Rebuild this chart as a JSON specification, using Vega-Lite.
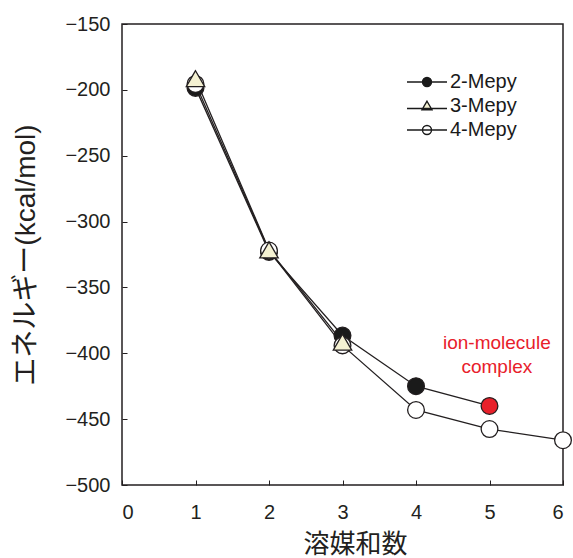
{
  "$schema": "https://vega.github.io/schema/vega-lite/v6.json",
  "width": 441,
  "height": 461,
  "autosize": {"type": "none"},
  "padding": {"left": 122, "top": 24, "right": 10, "bottom": 73},
  "background": "white",
  "config": {
    "view": {"stroke": "#231f20", "strokeWidth": 1.5},
    "font": "Liberation Sans, Noto Sans CJK JP",
    "axis": {
      "grid": false,
      "domain": false,
      "tickColor": "#231f20",
      "tickSize": -5,
      "tickWidth": 1,
      "labelFont": "Liberation Sans",
      "labelFontSize": 20,
      "labelColor": "#231f20",
      "titleFont": "Liberation Sans, Noto Sans CJK JP",
      "titleColor": "#231f20",
      "titleFontWeight": "normal"
    }
  },
  "datasets": {
    "pts": [
      {"series": "2-Mepy", "n": 1, "energy": -198.5},
      {"series": "2-Mepy", "n": 2, "energy": -323},
      {"series": "2-Mepy", "n": 3, "energy": -386.5},
      {"series": "2-Mepy", "n": 4, "energy": -425},
      {"series": "2-Mepy", "n": 5, "energy": -440},
      {"series": "4-Mepy", "n": 1, "energy": -195.5},
      {"series": "4-Mepy", "n": 2, "energy": -322},
      {"series": "4-Mepy", "n": 3, "energy": -394},
      {"series": "4-Mepy", "n": 4, "energy": -443},
      {"series": "4-Mepy", "n": 5, "energy": -457.5},
      {"series": "4-Mepy", "n": 6, "energy": -466},
      {"series": "3-Mepy", "n": 1, "energy": -191.5},
      {"series": "3-Mepy", "n": 2, "energy": -321.5},
      {"series": "3-Mepy", "n": 3, "energy": -391.5}
    ],
    "note": [
      {"n": 5.1, "energy": -392.5, "label": "ion-molecule\ncomplex"}
    ]
  },
  "layer": [
    {
      "data": {"name": "pts"},
      "mark": {"type": "line", "stroke": "#231f20", "strokeWidth": 1.3},
      "encoding": {
        "x": {
          "field": "n", "type": "quantitative",
          "scale": {"domain": [0, 6], "nice": false},
          "axis": {"values": [0, 1, 2, 3, 4, 5, 6], "format": "d", "title": "溶媒和数", "titleFontSize": 26, "titlePadding": 9, "labelPadding": 22, "titleX": 233}
        },
        "y": {
          "field": "energy", "type": "quantitative",
          "scale": {"domain": [-500, -150], "nice": false, "zero": false},
          "axis": {"values": [-500, -450, -400, -350, -300, -250, -200, -150], "title": "エネルギー(kcal/mol)", "titleFontSize": 28, "titlePadding": 24, "labelPadding": 17}
        },
        "detail": {"field": "series", "type": "nominal"}
      }
    },
    {
      "data": {"name": "pts"},
      "mark": {"type": "point", "filled": true, "stroke": "#231f20", "strokeWidth": 1.3, "opacity": 1},
      "encoding": {
        "x": {"field": "n", "type": "quantitative"},
        "y": {"field": "energy", "type": "quantitative"},
        "shape": {
          "condition": {"test": "datum.series === '3-Mepy'", "value": "triangle-up"},
          "value": "circle"
        },
        "size": {
          "condition": {"test": "datum.series === '3-Mepy'", "value": 340},
          "value": 280
        },
        "fill": {
          "field": "series", "type": "nominal",
          "scale": {"domain": ["2-Mepy", "3-Mepy", "4-Mepy"], "range": ["#1a1a1a", "#f4f1d2", "#ffffff"]},
          "condition": {"test": "datum.series === '2-Mepy' && datum.n === 5", "value": "#e8202a"},
          "legend": {
            "title": null,
            "orient": "none",
            "legendX": 295,
            "legendY": 48,
            "padding": 0,
            "symbolSize": 100,
            "labelOffset": 13,
            "rowPadding": 4,
            "labelFont": "Liberation Sans",
            "labelFontSize": 20,
            "labelColor": "#1a1a1a",
            "symbolStrokeColor": "#1a1a1a",
            "symbolStrokeWidth": 1.4,
            "symbolOpacity": 1,
            "encode": {
              "symbols": {
                "update": {
                  "shape": {"signal": "datum.value === '3-Mepy' ? 'M-4,0.5H4M0,-0.95L1,0.75L-1,0.75Z' : 'M-4,0H4M-0.9,0A0.9,0.9 0 1,1 0.9,0A0.9,0.9 0 1,1 -0.9,0Z'"},
                  "stroke": {"value": "#1a1a1a"},
                  "strokeWidth": {"value": 1.4},
                  "opacity": {"value": 1}
                }
              },
              "labels": {
                "update": {"fill": {"value": "#1a1a1a"}, "opacity": {"value": 1}}
              }
            }
          }
        }
      }
    },
    {
      "data": {"name": "note"},
      "mark": {"type": "text", "color": "#e8202a", "fontSize": 19, "font": "Liberation Sans", "align": "center", "baseline": "middle", "lineBreak": "\n", "lineHeight": 24},
      "encoding": {
        "x": {"field": "n", "type": "quantitative"},
        "y": {"field": "energy", "type": "quantitative"},
        "text": {"field": "label"}
      }
    }
  ]
}
